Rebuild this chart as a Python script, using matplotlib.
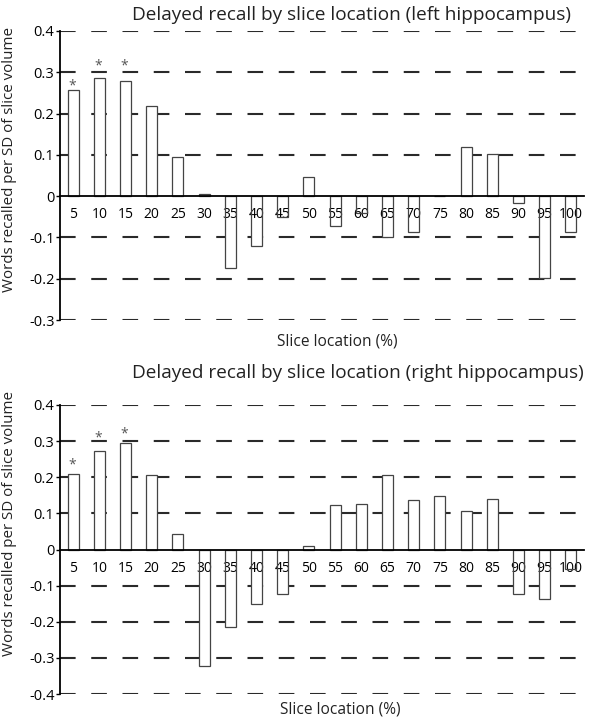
import matplotlib
matplotlib.use('Agg')
import matplotlib.pyplot as plt
import numpy as np

# slice positions along the hippocampus (%)
slices = [5, 10, 15, 20, 25, 30, 35, 40, 45, 50, 55, 60, 65, 70, 75, 80, 85, 90, 95, 100]

# words recalled per SD of slice volume
left_vals = [0.257, 0.287, 0.279, 0.218, 0.094, 0.005, -0.174, -0.120, -0.050, 0.047,
             -0.073, -0.042, -0.099, -0.088, 0.001, 0.120, 0.102, -0.017, -0.198, -0.087]
right_vals = [0.210, 0.272, 0.296, 0.205, 0.044, -0.322, -0.214, -0.152, -0.124, 0.009,
              0.122, 0.127, 0.205, 0.136, 0.147, 0.106, 0.139, -0.124, -0.138, -0.055]

# slices marked significant
signif = [5, 10, 15]

plt.rcParams['font.family'] = ['Open Sans', 'DejaVu Sans']

W, H = 596, 724
fig = plt.figure(figsize=(W / 100, H / 100), dpi=100)


def px_axes(x0, x1, ytop, ybot):
    return fig.add_axes([x0 / W, 1 - ybot / H, (x1 - x0) / W, (ybot - ytop) / H])


def draw_panel(ax, vals, ymin, ymax, star_off):
    x = np.arange(len(slices))
    # white fill under the tick labels, outlines on top of them
    ax.bar(x, vals, width=0.42, color='white', linewidth=0, zorder=2)
    ax.bar(x, vals, width=0.42, fill=False, edgecolor='#444444', linewidth=0.9, zorder=3)
    ticks = np.round(np.arange(ymin, ymax + 0.001, 0.1), 1)
    for t in ticks:
        if abs(t) > 1e-9:
            ax.axhline(t, color='#2a2a2a', linewidth=1.5, linestyle=(0, (7.5, 7.5)), zorder=1)
    ax.set_xlim(-0.5, len(slices) - 0.5)
    ax.set_ylim(ymin, ymax)
    ax.set_yticks(ticks)
    ax.set_yticklabels(['0' if abs(t) < 1e-9 else f'{t:.1f}' for t in ticks], fontsize=10.5)
    ax.tick_params(axis='y', direction='out', length=3, width=1, pad=1)
    ax.tick_params(axis='x', length=0, pad=8)
    ax.set_xticks(x)
    ax.set_xticklabels([str(s) for s in slices], fontsize=10.5)
    for s in ['top', 'right']:
        ax.spines[s].set_visible(False)
    ax.spines['bottom'].set_position(('data', 0))
    ax.spines['left'].set_linewidth(1.3)
    ax.spines['bottom'].set_linewidth(1.3)
    ax.spines['bottom'].set_zorder(4)
    ax.xaxis.set_zorder(2.5)
    for s, off in zip(signif, star_off):
        i = slices.index(s)
        ax.annotate('*', (x[i], vals[i]), xytext=(-1, off), textcoords='offset points',
                    ha='center', va='baseline', fontsize=10, color='#555555')


ax1 = px_axes(60, 584, 31, 320)
draw_panel(ax1, left_vals, -0.3, 0.4, [0.7, 5.8, 8])
fig.text(351 / W, 1 - 15 / H, 'Delayed recall by slice location (left hippocampus)',
         ha='center', va='center', fontsize=13.7, color='#222222')
fig.text(10 / W, 1 - 160 / H, 'Words recalled per SD of slice volume',
         rotation=90, ha='center', va='center', fontsize=10.9, color='#222222')
fig.text(337 / W, 1 - 342 / H, 'Slice location (%)', ha='center', va='center',
         fontsize=11.2, color='#222222')

ax2 = px_axes(60, 584, 405, 694)
draw_panel(ax2, right_vals, -0.4, 0.4, [3.6, 7.2, 3.6])
fig.text(358 / W, 1 - 373 / H, 'Delayed recall by slice location (right hippocampus)',
         ha='center', va='center', fontsize=13.7, color='#222222')
fig.text(10 / W, 1 - 524 / H, 'Words recalled per SD of slice volume',
         rotation=90, ha='center', va='center', fontsize=10.9, color='#222222')
fig.text(340 / W, 1 - 710 / H, 'Slice location (%)', ha='center', va='center',
         fontsize=11.2, color='#222222')

fig.savefig('out.png', dpi=100, facecolor='white')
